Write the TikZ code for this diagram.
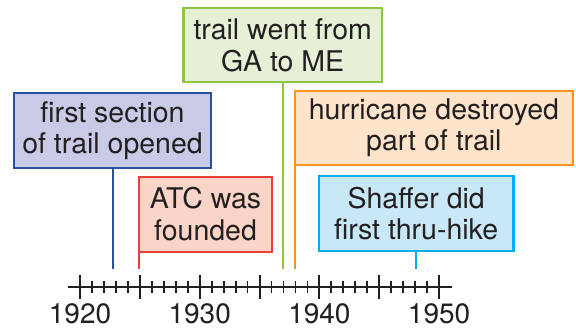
\documentclass[tikz,border=0pt]{standalone}
\usepackage{fontspec}
\setmainfont{TeX Gyre Heros}
\definecolor{txt}{HTML}{231F20}
\definecolor{bluel}{HTML}{2B4FA2}
\definecolor{bluef}{HTML}{C8CAE6}
\definecolor{redl}{HTML}{EC3F37}
\definecolor{redf}{HTML}{FAD4C6}
\definecolor{greenl}{HTML}{8DC63F}
\definecolor{greenf}{HTML}{E6F0D6}
\definecolor{orl}{HTML}{F7941D}
\definecolor{orf}{HTML}{FDE4CB}
\definecolor{cyl}{HTML}{00AEEF}
\definecolor{cyf}{HTML}{C8E8F8}
\tikzset{
  evbox/.style={draw=#1l, fill=#1f, line width=2.3pt, rectangle, inner sep=0pt,
    align=center, text=txt, font=\fontsize{28.5}{31.5}\selectfont},
  stem/.style={line width=2.3pt},
  axisline/.style={line width=2.6pt, txt},
  majtick/.style={line width=2pt, txt},
  mintick/.style={line width=1.8pt, txt},
  yearlab/.style={text=txt, font=\fontsize{28}{31}\selectfont, anchor=north, inner sep=0pt}
}
\begin{document}
\begin{tikzpicture}[x=1pt,y=-1pt]
\useasboundingbox (0,0) rectangle (576,328);
% stem end points
\coordinate (c1) at (113.3,269);
\coordinate (c2) at (139.3,269);
\coordinate (c3) at (283.0,269);
\coordinate (c4) at (295.0,269);
\coordinate (c5) at (415.7,269);
% axis
\coordinate (axL) at (68,287);
\coordinate (axR) at (452,287);
\draw[axisline] (axL) -- (axR);
\foreach \i in {0,...,30}{
  \pgfmathsetmacro{\xx}{80+\i*11.97}
  \pgfmathtruncatemacro{\m}{mod(\i,5)}
  \ifnum\m=0
    \draw[majtick] (\xx,275) -- (\xx,299);
  \else
    \draw[mintick] (\xx,281) -- (\xx,293);
  \fi
}
\foreach \i/\lab in {0/1920,10/1930,20/1940,30/1950}{
  \node[yearlab] (y\lab) at ({80+\i*11.97},303.5) {\lab};
}
% boxes
\node[evbox=blue, minimum width=197pt, minimum height=75pt] (b1) at (112.5,130.8) {first section\\of trail opened};
\node[evbox=red, minimum width=132.4pt, minimum height=75pt] (b2) at (205.5,214.2) {ATC was\\founded};
\node[evbox=green, minimum width=198.7pt, minimum height=74pt] (b3) at (282.7,45.3) {trail went from\\GA to ME};
\node[evbox=or, minimum width=277.7pt, minimum height=74.3pt] (b4) at (433.9,127.9) {hurricane destroyed\\part of trail};
\node[evbox=cy, minimum width=194.3pt, minimum height=74.7pt] (b5) at (416.2,213.4) {Shaffer did\\first thru-hike};
% stems
\draw[stem, bluel] (c1 |- b1.south) -- (c1);
\draw[stem, redl] (c2 |- b2.south) -- (c2);
\draw[stem, greenl] (c3 |- b3.south) -- (c3);
\draw[stem, orl] (c4 |- b4.south) -- (c4);
\draw[stem, cyl] (c5 |- b5.south) -- (c5);
\end{tikzpicture}
\end{document}
